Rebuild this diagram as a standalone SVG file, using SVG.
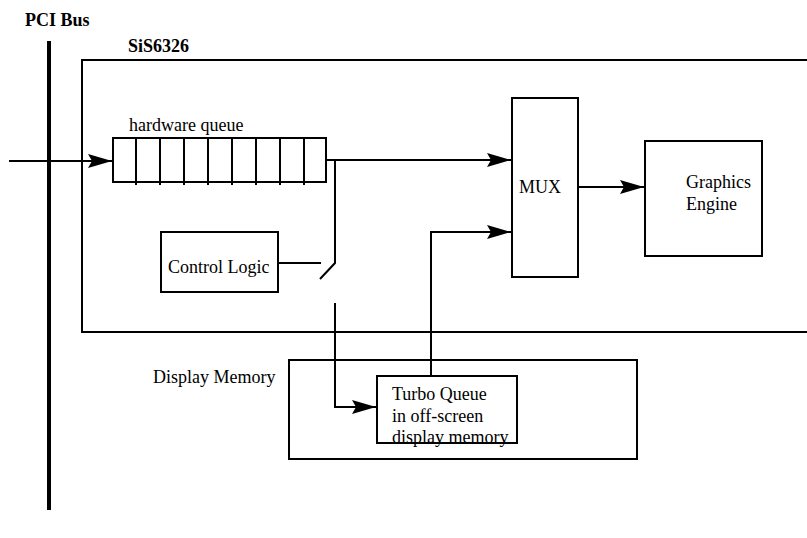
<svg xmlns="http://www.w3.org/2000/svg" width="807" height="538" viewBox="0 0 807 538">
<style>
text{font-family:"Liberation Serif","Times New Roman",serif;font-size:18px;fill:#000}
.b{font-weight:bold}
.box{fill:none;stroke:#000;stroke-width:2}
.ln{fill:none;stroke:#000;stroke-width:2}
</style>
<defs>
<marker id="ah" markerUnits="userSpaceOnUse" markerWidth="26" markerHeight="16" refX="25" refY="8" orient="auto">
<path d="M25,8 L1,1 L5,8 L1,15 Z" fill="#000"/>
</marker>
</defs>
<rect width="807" height="538" fill="#fff"/>
<g id="pci-bus">
<line x1="49" y1="41" x2="49" y2="510" stroke="#000" stroke-width="4"/>
<text class="b" x="25" y="26">PCI Bus</text>
</g>
<g id="sis6326">
<path class="box" d="M820,60 H82 V332 H820"/>
<text class="b" x="128" y="52">SiS6326</text>
</g>
<g id="hardware-queue">
<text x="129" y="131">hardware queue</text>
<rect class="box" x="113" y="138" width="213" height="44"/>
<path class="ln" d="M136,138V185M160,138V185M184,138V185M208,138V185M232,138V185M256,138V185M280,138V185M304,138V185"/>
</g>
<g id="mux">
<rect class="box" x="512" y="98" width="66" height="179"/>
<text x="519" y="193">MUX</text>
</g>
<g id="graphics-engine">
<rect class="box" x="645" y="141" width="117" height="115"/>
<text x="686" y="188">Graphics</text>
<text x="686" y="210">Engine</text>
</g>
<g id="control-logic">
<rect class="box" x="161" y="232" width="117" height="60"/>
<text x="168" y="273">Control Logic</text>
</g>
<g id="display-memory">
<rect class="box" x="289" y="360" width="348" height="99"/>
<text x="153" y="383">Display Memory</text>
</g>
<g id="turbo-queue">
<text x="392" y="400">Turbo Queue</text>
<text x="392" y="422">in off-screen</text>
<text x="392" y="443">display memory</text>
<rect class="box" x="377" y="376" width="140" height="67"/>
</g>
<g id="connectors">
<line class="ln" x1="9" y1="161" x2="112" y2="161" marker-end="url(#ah)"/>
<line class="ln" x1="326" y1="160" x2="511" y2="160" marker-end="url(#ah)"/>
<line class="ln" x1="579" y1="187" x2="644" y2="187" marker-end="url(#ah)"/>
<path class="ln" d="M335,160 V263 L320,279"/>
<line class="ln" x1="278" y1="263" x2="321" y2="263"/>
<path class="ln" d="M335,303 V407 H376" marker-end="url(#ah)"/>
<path class="ln" d="M431,376 V232 H511" marker-end="url(#ah)"/>
</g>
</svg>
